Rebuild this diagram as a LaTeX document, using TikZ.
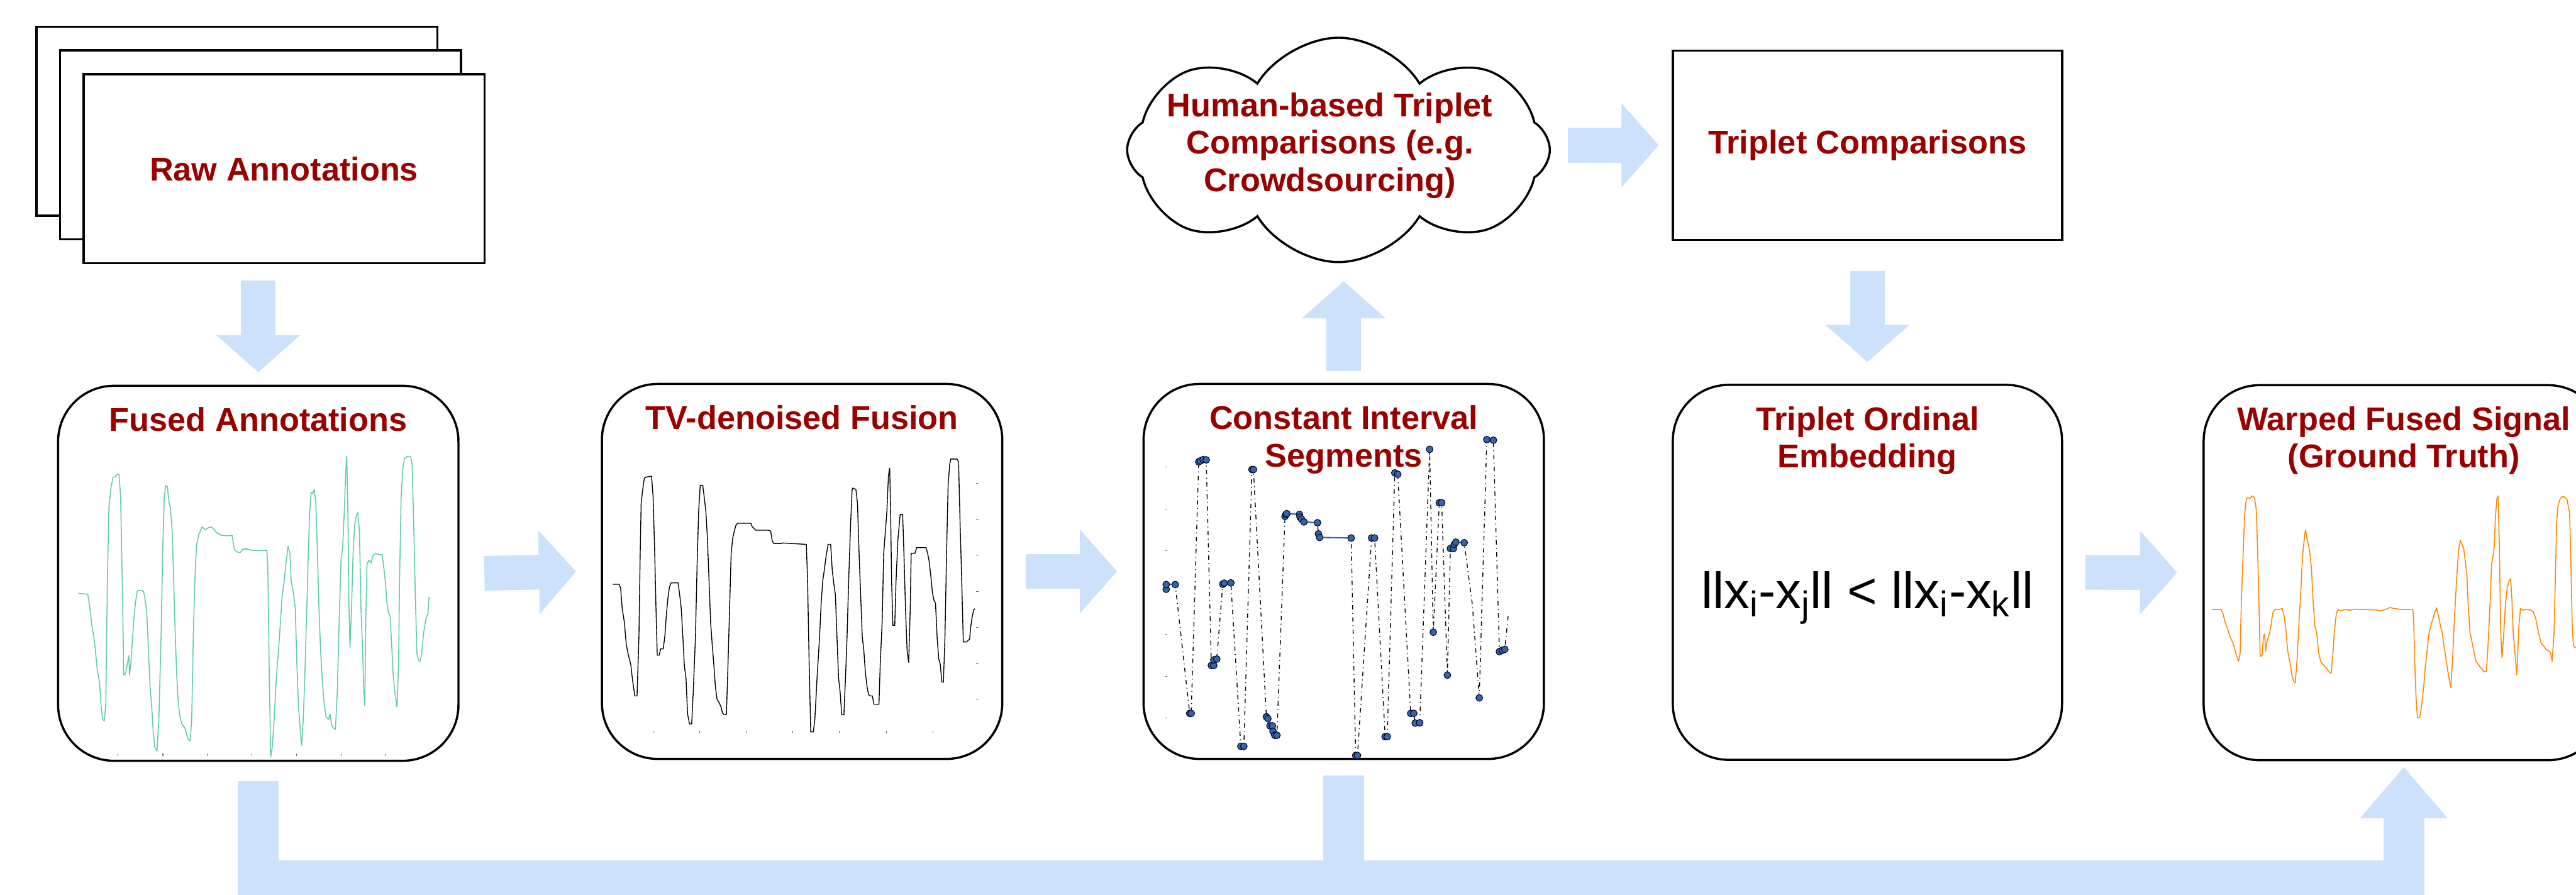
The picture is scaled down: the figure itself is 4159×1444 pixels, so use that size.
\documentclass[tikz,border=0pt]{standalone}
\usepackage{fontspec}
\setmainfont{Liberation Sans}
\usetikzlibrary{positioning,calc,arrows.meta,shapes.symbols}

\definecolor{flowblue}{RGB}{204,226,252}
\definecolor{titlered}{RGB}{153,0,0}
\definecolor{fusedteal}{RGB}{98,203,168}
\definecolor{warporange}{RGB}{255,135,0}
\definecolor{segblue}{RGB}{52,101,164}

\tikzset{
  stagebox/.style={draw, line width=1pt, rounded corners=0.9cm, minimum width=6.46cm, minimum height=6.05cm, fill=white, inner sep=0},
  paperbox/.style={draw, line width=1pt, fill=white, minimum width=6.47cm, minimum height=3.05cm, inner sep=0},
  boxtitle/.style={text=titlered, font=\fontsize{15.1pt}{17.1pt}\selectfont\bfseries, align=center, inner sep=0},
  flowarrow/.style={draw=flowblue, line width=0.56cm, -{Triangle[width=1.32cm,length=0.6cm]}},
  busline/.style={draw=flowblue, line width=0.66cm},
  tickmark/.style={line width=0.3pt, black!60},
  segdot/.style={fill=segblue, draw=black!85!blue, line width=0.3pt},
}

\begin{document}
\begin{tikzpicture}[x=0.01cm, y=-0.01cm]
    \useasboundingbox (0,0) rectangle (4159,1444);

    % stack of raw annotation sheets
    \foreach \k/\sheet in {2/rawback, 1/rawmid}
        \node[paperbox] (\sheet) at ($(458.5,272.5)-\k*(38,38.5)$) {};
    \node[paperbox, boxtitle] (raw) at (458.5,272.5) {Raw Annotations};

    % pipeline boxes
    \node[stagebox] (fused) at (417,925.5) {};
    \node[stagebox] (tv) at (1295,922.5) {};
    \node[stagebox] (segs) at (2169.5,922.5) {};
    \node[stagebox, minimum width=6.28cm] (embed) at (3015,924) {};
    \node[stagebox] (warped) at (3881,924.5) {};

    % top row: crowdsourcing cloud and the triplets
    \node[cloud, cloud puffs=8, cloud puff arc=118, aspect=1.9, draw, line width=1pt,
          minimum width=6.82cm, minimum height=3.62cm, fill=white] (crowd) at (2161,242) {};
    \node[boxtitle] (crowdtext) at (2147,235) {Human-based Triplet\\Comparisons (e.g.\\Crowdsourcing)};
    \node[paperbox, boxtitle, minimum width=6.28cm] (triplets) at (3015,234.5) {Triplet Comparisons};

    % fused annotation signal
    \begin{scope}[shift={(0,580)}, x=0.005102cm, y=-0.0044643cm]
        \draw[fusedteal, line width=0.45pt, line join=round] plot coordinates {
            (248,845) (278,848) (285,900) (290,955) (297,1000) (302,1050) (308,1120) (315,1165)
            (320,1250) (325,1300) (330,1305) (335,1250) (340,800) (345,530) (352,460) (358,425)
            (365,425) (370,415) (377,415) (382,500) (387,800) (392,1140) (398,1135) (403,1100)
            (408,1070) (410,1140) (415,1090) (420,1000) (425,920) (430,870) (435,835) (450,835)
            (455,840) (460,870) (465,920) (470,1050) (475,1180) (480,1250) (485,1340) (490,1400)
            (497,1415) (503,1300) (510,1000) (515,700) (520,500) (525,455) (530,460) (535,515)
            (540,540) (545,620) (550,800) (555,1000) (560,1150) (565,1250) (570,1290) (575,1315)
            (585,1330) (595,1370) (602,1378) (607,1300) (612,1000) (617,800) (622,670) (630,630)
            (640,605) (650,615) (660,608) (670,605) (685,625) (700,635) (720,637) (735,635)
            (738,660) (742,685) (750,695) (760,698) (770,685) (785,685) (800,690) (820,690)
            (840,690) (845,688) (848,750) (852,1100) (857,1435) (862,1400) (868,1300) (875,1150)
            (885,1000) (893,860) (900,800) (905,740) (912,675) (918,700) (922,800) (930,850)
            (935,900) (940,1100) (945,1250) (950,1330) (955,1395) (960,1300) (965,1150) (970,950)
            (975,750) (980,560) (985,480) (990,485) (995,470) (1000,520) (1005,700) (1010,900)
            (1015,1050) (1020,1150) (1025,1230) (1032,1290) (1040,1300) (1045,1280) (1050,1320)
            (1055,1330) (1062,1335) (1068,1200) (1075,900) (1080,720) (1085,680) (1090,550)
            (1095,400) (1098,350) (1102,600) (1105,900) (1108,1040) (1113,900) (1118,700)
            (1123,600) (1128,565) (1133,553) (1138,620) (1143,900) (1148,1050) (1152,1200)
            (1155,1250) (1158,950) (1162,740) (1168,725) (1175,735) (1180,710) (1190,700)
            (1200,705) (1210,705) (1215,750) (1220,800) (1225,880) (1230,915) (1235,925)
            (1240,1030) (1245,1140) (1250,1200) (1257,1255) (1262,1100) (1265,800) (1270,500)
            (1275,400) (1280,360) (1290,350) (1300,352) (1305,380) (1310,600) (1315,850)
            (1320,1060) (1325,1085) (1330,1090) (1335,1065) (1340,1000) (1345,960) (1350,930)
            (1355,920) (1358,860) (1362,860)};
    \end{scope}
    \foreach \x in {190,263,335,407,479,551,622}
        \draw[tickmark] (\x,1216) -- (\x,1220);

    % total variation denoised signal
    \begin{scope}[shift={(900,580)}, x=0.005102cm, y=-0.0044643cm]
        \draw[black, line width=0.4pt] plot coordinates {
            (175,812) (195,812) (200,825) (205,900) (212,950) (218,1030) (225,1070) (232,1100)
            (238,1160) (245,1215) (252,1215) (258,1000) (262,700) (265,520) (270,470) (275,430)
            (280,425) (298,422) (303,500) (308,700) (312,900) (316,1068) (322,1068) (327,1045)
            (335,1045) (340,1000) (345,920) (350,860) (355,820) (360,807) (382,807) (387,850)
            (392,900) (397,1000) (402,1110) (407,1150) (412,1280) (418,1316) (425,1316) (430,1200)
            (437,1000) (442,750) (447,550) (452,455) (460,455) (465,500) (470,550) (475,650)
            (480,800) (485,950) (490,1030) (495,1100) (500,1180) (505,1225) (512,1240) (518,1255)
            (522,1275) (527,1282) (535,1282) (540,1100) (545,900) (550,700) (555,645) (560,620)
            (565,600) (570,592) (612,592) (617,605) (622,610) (628,617) (668,617) (675,620)
            (680,655) (685,665) (708,665) (712,663) (788,668) (792,800) (797,1100) (802,1345)
            (810,1345) (815,1300) (822,1150) (830,1000) (835,880) (840,800) (845,760) (850,715)
            (857,668) (865,668) (870,760) (875,810) (880,850) (885,1000) (890,1150) (895,1200)
            (900,1283) (907,1283) (912,1150) (917,1000) (922,800) (928,600) (933,470) (935,465)
            (945,470) (950,520) (955,700) (960,850) (965,1000) (970,1050) (975,1130) (980,1180)
            (985,1210) (990,1215) (997,1215) (1002,1245) (1018,1245) (1022,1100) (1028,950)
            (1033,700) (1038,625) (1043,550) (1048,420) (1052,392) (1055,560) (1058,800)
            (1062,960) (1068,960) (1072,800) (1078,650) (1082,600) (1085,560) (1093,560)
            (1097,700) (1102,900) (1107,1050) (1112,1095) (1117,900) (1120,700) (1132,700)
            (1137,680) (1167,680) (1172,700) (1177,730) (1182,780) (1187,840) (1192,870)
            (1197,880) (1202,1000) (1207,1080) (1212,1100) (1217,1165) (1222,1165) (1227,1000)
            (1232,700) (1237,450) (1242,380) (1245,360) (1265,360) (1270,370) (1275,600)
            (1280,800) (1285,1020) (1295,1020) (1300,1015) (1305,1010) (1308,970) (1313,930)
            (1318,905) (1322,900)};
    \end{scope}
    \foreach \x in {1054,1130,1205,1280,1355,1431,1506}
        \draw[tickmark] (\x,1180) -- (\x,1184);
    \foreach \y in {780,838,896,955,1013,1071,1129}
        \draw[tickmark] (1576,\y) -- (1580,\y);

    % constant interval segments
    \foreach \y in {754,822,889,956,1024,1092,1159}
        \draw[tickmark] (1881,\y) -- (1885,\y);
    \begin{scope}[shift={(1780,580)}, x=0.004847cm, y=-0.0044643cm]
        \draw[black, line width=0.4pt, dash pattern=on 2pt off 1.6pt on 0.4pt off 1.6pt] plot coordinates {
            (212,830) (212,813) (242,813) (290,1278) (295,1278) (320,370) (325,367) (335,362)
            (345,363) (362,1105) (370,1105) (370,1085) (380,1082) (400,812) (405,808) (427,807)
            (460,1397) (470,1397) (497,398) (502,398) (545,1290) (550,1297) (557,1323) (565,1323)
            (567,1343) (573,1357) (580,1357) (607,567) (610,560) (613,557) (655,560) (657,570)
            (662,577) (670,587) (715,590) (718,630) (722,643) (827,645) (842,1430) (848,1430)
            (895,645) (905,645) (940,1362) (947,1362) (972,410) (982,415) (1025,1278) (1035,1278)
            (1040,1313) (1055,1312) (1088,325) (1100,985) (1120,518) (1128,518) (1147,1140)
            (1157,683) (1167,683) (1170,668) (1175,660) (1203,662) (1230,885) (1253,1222)
            (1278,290) (1300,292) (1320,1055) (1330,1050) (1338,1047) (1350,915)};
        \foreach \xa/\ya/\xb/\yb in {212/813/242/813, 613/557/655/560, 670/587/715/590,
                                     722/643/827/645, 1175/660/1203/662}
            \draw[segblue, line width=0.6pt] (\xa,\ya) -- (\xb,\yb);
        \foreach \x/\y in {212/830, 212/813, 242/813, 290/1278, 295/1278, 320/370, 325/367,
                           335/362, 345/363, 362/1105, 370/1105, 370/1085, 380/1082, 400/812,
                           405/808, 427/807, 460/1397, 470/1397, 497/398, 502/398, 545/1290,
                           550/1297, 557/1323, 565/1323, 567/1343, 573/1357, 580/1357, 607/567,
                           610/560, 613/557, 655/560, 657/570, 662/577, 670/587, 715/590,
                           718/630, 722/643, 827/645, 842/1430, 848/1430, 895/645, 905/645,
                           940/1362, 947/1362, 972/410, 982/415, 1025/1278, 1035/1278,
                           1040/1313, 1055/1312, 1088/325, 1100/985, 1120/518, 1128/518,
                           1147/1140, 1157/683, 1167/683, 1170/668, 1175/660, 1203/662,
                           1253/1222, 1278/290, 1300/292, 1320/1055, 1330/1050, 1338/1047}
            \filldraw[segdot] (\x,\y) circle[radius=0.055cm];
    \end{scope}

    % warped signal
    \begin{scope}[shift={(3500,580)}, x=0.0042035cm, y=-0.0055096cm]
        \draw[warporange, line width=0.45pt, line join=round] plot coordinates {
            (170,733) (205,733) (212,745) (220,770) (230,790) (240,815) (250,830) (258,850)
            (265,870) (272,885) (278,860) (283,700) (290,560) (295,460) (300,420) (305,405)
            (315,408) (325,400) (333,405) (340,440) (345,550) (350,700) (355,870) (362,868)
            (368,810) (372,805) (376,855) (380,830) (388,810) (395,790) (400,760) (405,740)
            (415,732) (430,733) (440,730) (448,755) (455,800) (460,850) (465,870) (470,890)
            (478,930) (485,945) (490,948) (497,880) (505,760) (510,700) (515,620) (520,560)
            (527,510) (530,500) (535,525) (545,560) (552,610) (558,700) (565,780) (572,800)
            (580,860) (588,885) (595,892) (603,900) (610,905) (620,915) (628,920) (635,860)
            (640,800) (648,745) (655,733) (665,737) (680,733) (700,735) (720,732) (750,733)
            (800,734) (820,737) (840,732) (855,727) (870,730) (900,733) (942,733) (945,760)
            (950,900) (955,1000) (960,1050) (968,1050) (975,1020) (985,950) (990,900) (995,870)
            (1000,830) (1005,800) (1015,770) (1025,745) (1033,728) (1040,750) (1048,780)
            (1055,800) (1060,830) (1070,880) (1080,930) (1088,962) (1095,880) (1102,760)
            (1110,650) (1118,560) (1125,530) (1132,545) (1138,555) (1145,600) (1150,630)
            (1155,720) (1162,800) (1170,830) (1178,860) (1185,885) (1195,895) (1205,905)
            (1215,915) (1225,915) (1232,830) (1240,700) (1245,600) (1250,580) (1255,550)
            (1260,460) (1265,410) (1270,400) (1275,550) (1280,800) (1285,875) (1292,800)
            (1298,720) (1305,670) (1312,650) (1318,643) (1323,700) (1328,800) (1335,860)
            (1342,925) (1350,780) (1356,730) (1365,735) (1375,733) (1385,733) (1395,735)
            (1405,740) (1415,760) (1425,800) (1435,830) (1445,840) (1455,850) (1465,855)
            (1472,860) (1478,885) (1485,800) (1490,650) (1495,480) (1500,430) (1508,410)
            (1515,403) (1525,403) (1535,410) (1545,450) (1550,600) (1555,780) (1560,840)
            (1568,845) (1580,845)};
    \end{scope}

    % box titles
    \node[boxtitle, below=0.36cm of fused.north] (fusedtitle) {Fused Annotations};
    \node[boxtitle, below=0.36cm of tv.north] (tvtitle) {TV-denoised Fusion};
    \node[boxtitle, below=0.36cm of segs.north] (segstitle) {Constant Interval\\Segments};
    \node[boxtitle, below=0.36cm of embed.north] (embedtitle) {Triplet Ordinal\\Embedding};
    \node[boxtitle, below=0.36cm of warped.north] (warpedtitle) {Warped Fused Signal\\(Ground Truth)};
    \node[anchor=base, inner sep=0, font=\fontsize{23.5pt}{28pt}\selectfont] (formula)
        at ($(embed.center)+(0,58.5)$)
        {llx\textsubscript{i}-x\textsubscript{j}ll < llx\textsubscript{i}-x\textsubscript{k}ll};

    % flow arrows
    \draw[flowarrow] ($(fused.north |- raw.south)+(0,26)$) -- ($(fused.north)+(0,-20)$);
    \draw[flowarrow] ($(fused.east)+(40,0)$) -- ($(tv.west)+(-40,0)$);
    \draw[flowarrow] ($(tv.east)+(36,0)$) -- ($(segs.west)+(-41,0)$);
    \draw[flowarrow] ($(segs.north)+(0,-19)$) -- ($(segs.north |- crowd.south)+(0,29)$);
    \draw[flowarrow] ($(crowd.east |- triplets.west)+(27,0)$) -- ($(triplets.west)+(-21,0)$);
    \draw[flowarrow] ($(triplets.south)+(0,49)$) -- ($(embed.north)+(0,-35)$);
    \draw[flowarrow] ($(embed.east)+(36,0)$) -- ($(warped.west)+(-41,0)$);

    % bus back to the warped signal
    \coordinate (bus) at (0,1422);
    \draw[busline] ($(segs.south)+(0,25)$) -- (segs.south |- bus);
    \draw[busline, -{Triangle[width=1.36cm,length=0.83cm]}]
        ($(fused.south)+(0,31)$) |- (warped.south |- bus) -- ($(warped.south)+(0,9)$);
\end{tikzpicture}
\end{document}
